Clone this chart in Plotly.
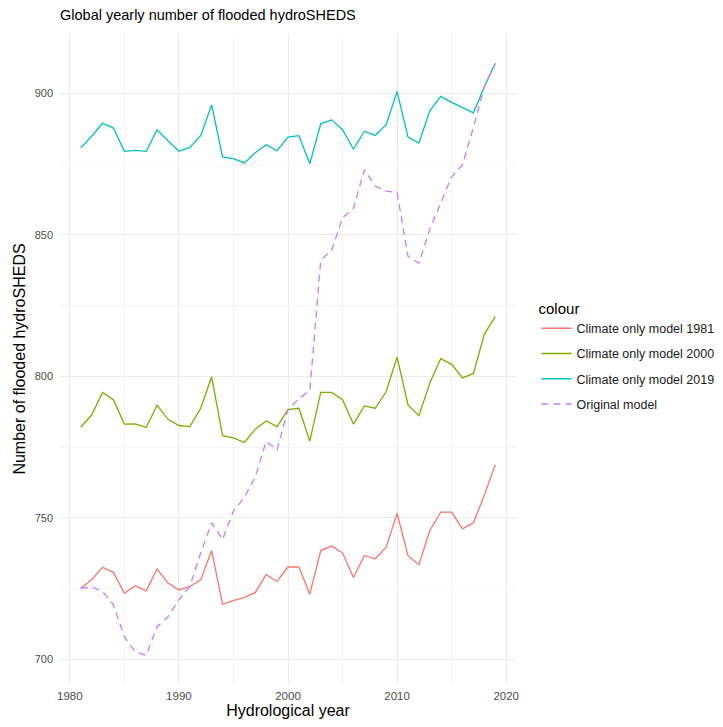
import plotly.graph_objects as go

years = list(range(1981, 2020))

climate_1981 = [725.1, 728.1, 732.5, 730.7, 723.3, 726.0, 724.2, 731.9, 726.9, 724.5,
                725.7, 728.1, 738.4, 719.5, 720.7, 721.9, 723.6, 729.9, 727.5, 732.6,
                732.6, 723.0, 738.4, 740.0, 737.6, 728.9, 736.6, 735.5, 739.6, 751.5,
                736.6, 733.4, 745.5, 752.0, 752.0, 746.1, 748.2, 758.0, 768.7]

climate_2000 = [782.0, 786.3, 794.3, 791.6, 783.1, 783.2, 781.9, 789.8, 784.8, 782.6,
                782.2, 788.7, 799.8, 779.0, 778.2, 776.6, 781.3, 784.2, 782.2, 788.2,
                788.7, 777.1, 794.3, 794.3, 791.7, 783.1, 789.5, 788.7, 794.6, 806.8,
                789.9, 786.1, 797.6, 806.2, 804.2, 799.4, 801.0, 814.9, 821.1]

climate_2019 = [880.7, 884.8, 889.4, 887.7, 879.5, 879.8, 879.5, 887.1, 883.2, 879.5,
                880.9, 885.0, 895.9, 877.5, 876.9, 875.4, 879.0, 881.8, 879.7, 884.5,
                885.0, 875.1, 889.2, 890.6, 887.1, 880.3, 886.5, 885.1, 888.9, 900.6,
                884.5, 882.4, 893.8, 898.9, 896.8, 894.9, 893.1, 902.3, 910.6]

original = [725.1, 725.5, 724.0, 719.2, 707.9, 702.6, 701.4, 711.5, 715.0, 721.0,
            725.7, 737.6, 748.2, 742.3, 752.4, 757.1, 764.5, 777.0, 774.0, 788.3,
            792.0, 795.0, 841.0, 844.5, 856.0, 859.3, 873.0, 867.2, 865.4, 864.9,
            842.4, 840.0, 852.0, 861.5, 870.5, 874.8, 888.0, 902.3, 910.5]

series_names = ["Climate only model 1981", "Climate only model 2000",
                "Climate only model 2019", "Original model"]
series_values = [climate_1981, climate_2000, climate_2019, original]
colors = ["#F8766D", "#7CAE00", "#00BFC4", "#C77CFF"]
dashes = ["solid", "solid", "solid", "7px,5px"]

x_ticks = [1980, 1990, 2000, 2010, 2020]
y_ticks = [700, 750, 800, 850, 900]

fig = go.Figure()
for name, vals, col, dsh in zip(series_names, series_values, colors, dashes):
    fig.add_trace(go.Scatter(
        x=years, y=vals, mode="lines", name=name, legendgroup=name,
        line=dict(color=col, width=1.3, dash=dsh),
    ))

fig.update_layout(
    width=723, height=727,
    margin=dict(l=52, r=212, t=25, b=50),
    paper_bgcolor="white", plot_bgcolor="white",
    font=dict(family="Liberation Sans, Arial, sans-serif", color="#000000"),
    title=dict(text="Global yearly number of flooded hydroSHEDS",
               x=52 / 723, xanchor="left", y=1 - 7 / 727, yanchor="middle",
               font=dict(size=14.5, color="#000000")),
    legend=dict(
        title=dict(text="colour", font=dict(size=15, color="#000000")),
        font=dict(size=12.5, color="#1a1a1a"),
        x=1.045, xanchor="left", y=0.5995, yanchor="top",
        tracegroupgap=6, itemwidth=30, bgcolor="rgba(0,0,0,0)",
    ),
    showlegend=True,
)

fig.update_xaxes(
    range=[1979.1, 2020.9], tickvals=x_ticks, ticktext=[str(v) for v in x_ticks],
    showgrid=True, gridcolor="#EBEBEB", gridwidth=1,
    minor=dict(tickvals=[1985, 1995, 2005, 2015], showgrid=True,
               gridcolor="#F4F4F4", gridwidth=1),
    zeroline=False, showline=False, ticks="", automargin=False,
    ticklabelstandoff=2,
    tickfont=dict(size=11.5, color="#4D4D4D"),
    title=dict(text="Hydrological year", font=dict(size=16, color="#000000"), standoff=4),
)
fig.update_yaxes(
    range=[690.9, 921.3], tickvals=y_ticks, ticktext=[str(v) for v in y_ticks],
    showgrid=True, gridcolor="#EBEBEB", gridwidth=1,
    minor=dict(tickvals=[725, 775, 825, 875], showgrid=True,
               gridcolor="#F4F4F4", gridwidth=1),
    zeroline=False, showline=False, ticks="", automargin=False,
    ticklabelstandoff=6,
    tickfont=dict(size=11, color="#4D4D4D"),
    title=dict(text="Number of flooded hydroSHEDS", font=dict(size=16, color="#000000"), standoff=5),
)

fig.write_html("out.html")
